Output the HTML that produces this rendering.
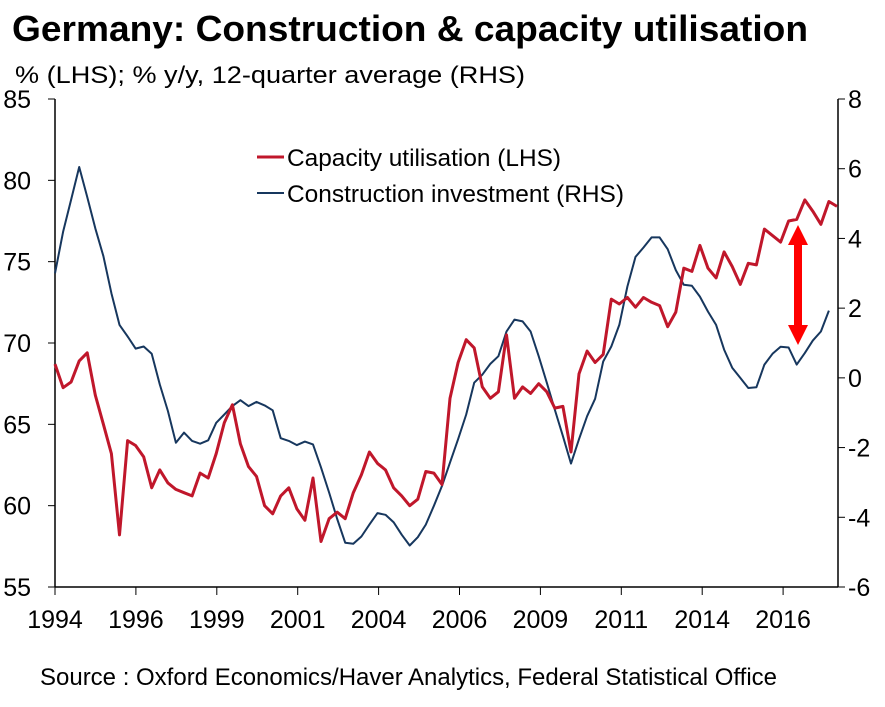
<!DOCTYPE html>
<html><head><meta charset="utf-8"><style>
html,body{margin:0;padding:0;background:#fff;}
svg{display:block;font-family:"Liberation Sans",Arial,sans-serif;}
</style></head><body>
<svg id="chart" width="885" height="707" viewBox="0 0 885 707">
<text x="12" y="41" font-size="36" font-weight="bold" fill="#000" textLength="796" lengthAdjust="spacingAndGlyphs">Germany: Construction &amp; capacity utilisation</text>
<text x="15" y="83" font-size="24" fill="#000" textLength="510" lengthAdjust="spacingAndGlyphs">% (LHS); % y/y, 12-quarter average (RHS)</text>
<text x="40" y="685" font-size="24" fill="#000" textLength="737" lengthAdjust="spacingAndGlyphs">Source : Oxford Economics/Haver Analytics, Federal Statistical Office</text>
<g id="axes"></g>
<g id="series"></g>
<g>
<line x1="257" y1="157" x2="284" y2="157" stroke="#c0172b" stroke-width="3"/>
<text x="287" y="166" font-size="24" textLength="274" lengthAdjust="spacingAndGlyphs">Capacity utilisation (LHS)</text>
<line x1="257" y1="193" x2="284" y2="193" stroke="#17375e" stroke-width="2"/>
<text x="287" y="202" font-size="24" textLength="337" lengthAdjust="spacingAndGlyphs">Construction investment (RHS)</text>
</g>
<g fill="#ff0000">
<rect x="794" y="244" width="8" height="84"/>
<polygon points="798,225 788,245 808,245"/>
<polygon points="798,345 788,325 808,325"/>
</g>
</svg>
<script>
const capacity = [68.7,67.25,67.6,68.9,69.4,66.8,65.0,63.2,58.2,64.0,63.7,63.0,61.1,62.2,61.4,61.0,60.8,60.6,62.0,61.7,63.2,65.1,66.2,63.8,62.4,61.8,60.0,59.5,60.6,61.1,59.8,59.1,61.7,57.8,59.2,59.6,59.2,60.8,61.9,63.3,62.6,62.2,61.1,60.6,60.0,60.4,62.1,62.0,61.3,66.6,68.8,70.2,69.7,67.3,66.6,67.0,70.5,66.6,67.3,66.9,67.5,67.0,66.0,66.1,63.3,68.1,69.5,68.8,69.3,72.7,72.4,72.8,72.2,72.8,72.5,72.3,71.0,71.9,74.6,74.4,76.0,74.6,74.0,75.6,74.7,73.6,74.9,74.8,77.0,76.6,76.2,77.5,77.6,78.8,78.1,77.3,78.7,78.4];
const construction = [3.0,4.19,5.11,6.05,5.19,4.29,3.49,2.43,1.52,1.19,0.84,0.90,0.69,-0.19,-0.95,-1.86,-1.57,-1.81,-1.89,-1.79,-1.29,-1.05,-0.81,-0.64,-0.81,-0.69,-0.79,-0.93,-1.73,-1.81,-1.93,-1.83,-1.91,-2.57,-3.29,-4.05,-4.73,-4.76,-4.55,-4.21,-3.88,-3.93,-4.14,-4.50,-4.81,-4.57,-4.21,-3.67,-3.10,-2.43,-1.76,-1.05,-0.14,0.09,0.40,0.62,1.33,1.67,1.62,1.33,0.62,-0.14,-0.91,-1.67,-2.46,-1.76,-1.10,-0.60,0.47,0.90,1.52,2.62,3.47,3.74,4.03,4.03,3.69,3.09,2.67,2.64,2.33,1.90,1.52,0.81,0.29,0.00,-0.29,-0.27,0.38,0.69,0.89,0.87,0.38,0.71,1.07,1.33,1.93];
const leftTicks = [55,60,65,70,75,80,85];
const rightTicks = [-6,-4,-2,0,2,4,6,8];
const xLabels = ["1994","1996","1999","2001","2004","2006","2009","2011","2014","2016"];
const xLabelStep = 10;
const nPoints = 98;

const NS = "http://www.w3.org/2000/svg";
const X0 = 55, X1 = 837, YT = 99, YB = 587;
function xAt(i){ return X0 + i * (X1 - X0) / (nPoints - 1); }
function yL(v){ return YB - (v - 55) / 30 * (YB - YT); }
function yR(v){ return YB - (v + 6) / 14 * (YB - YT); }
function mk(tag, attrs, parent){ const e = document.createElementNS(NS, tag); for (const k in attrs) e.setAttribute(k, attrs[k]); parent.appendChild(e); return e; }

const axes = document.getElementById("axes");
let ax = mk("line", {x1:X0, y1:YT, x2:X0, y2:YB, stroke:"#000", "stroke-width":1.5}, axes);


ax = mk("line", {x1:838, y1:YT, x2:838, y2:YB, stroke:"#000", "stroke-width":1.5}, axes);


ax = mk("line", {x1:X0, y1:YB, x2:838, y2:YB, stroke:"#000", "stroke-width":1.5}, axes);



leftTicks.forEach(v => {
  const y = yL(v);
  mk("line", {x1:X0-7, y1:y, x2:X0, y2:y, stroke:"#000", "stroke-width":1}, axes);
  const t = mk("text", {x:31, y:y+9, "font-size":25, "text-anchor":"end"}, axes);
  t.textContent = v;
  
  
});
rightTicks.forEach(v => {
  const y = yR(v);
  mk("line", {x1:838, y1:y, x2:845, y2:y, stroke:"#000", "stroke-width":1}, axes);
  const t = mk("text", {x:848, y:y+9, "font-size":25}, axes);
  t.textContent = v;
  
  
});
xLabels.forEach((lab, k) => {
  const x = X0 + k * xLabelStep * 8.09;
  mk("line", {x1:x, y1:YB, x2:x, y2:YB+8, stroke:"#000", "stroke-width":1}, axes);
  const t = mk("text", {x:x, y:628, "font-size":25, "text-anchor":"middle"}, axes);
  t.textContent = lab;
  
  
});

const series = document.getElementById("series");
const blue = mk("polyline", {points: construction.map((v,i)=>xAt(i).toFixed(1)+","+yR(v).toFixed(1)).join(" "), fill:"none", stroke:"#17375e", "stroke-width":2, "stroke-linejoin":"round"}, series);


const red = mk("polyline", {points: capacity.map((v,i)=>xAt(i).toFixed(1)+","+yL(v).toFixed(1)).join(" "), fill:"none", stroke:"#c0172b", "stroke-width":3, "stroke-linejoin":"round"}, series);


</script>
</body></html>
